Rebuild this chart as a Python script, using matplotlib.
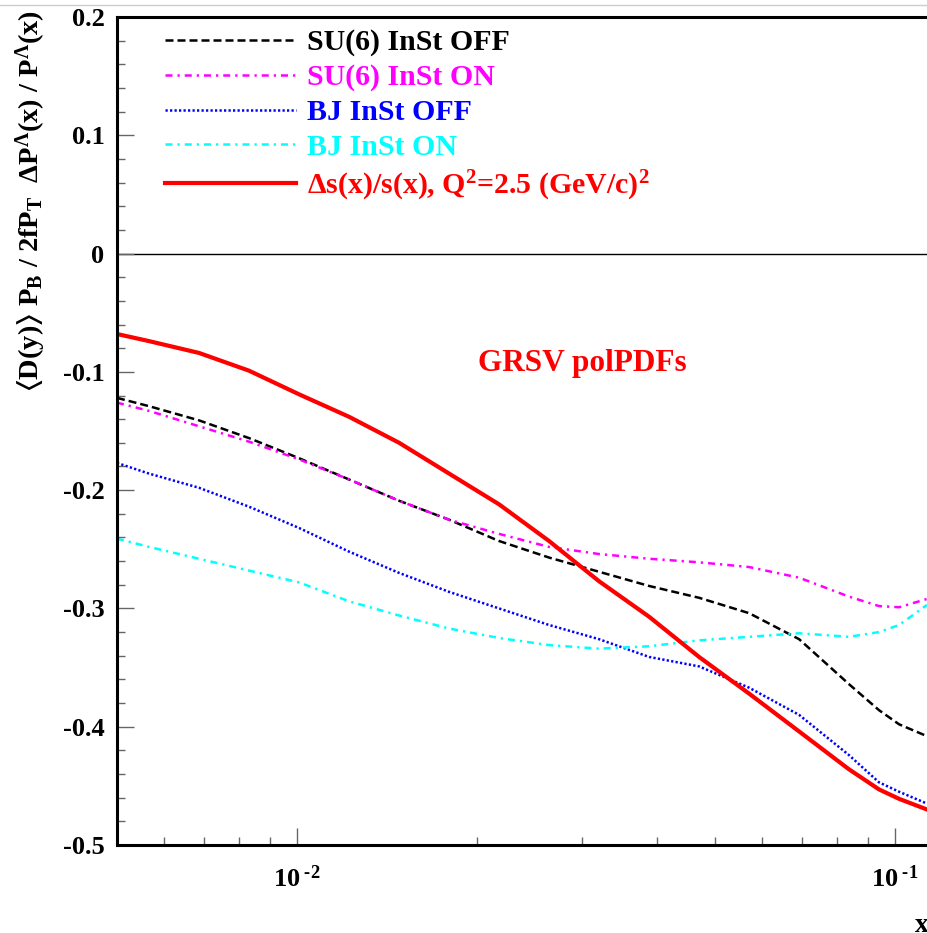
import matplotlib
matplotlib.use("Agg")
import matplotlib.pyplot as plt
import matplotlib.ticker as ticker
from matplotlib.lines import Line2D

plt.rcParams['font.family'] = ['Liberation Serif', 'DejaVu Serif']
plt.rcParams['font.weight'] = 'bold'
plt.rcParams['mathtext.fontset'] = 'custom'
plt.rcParams['mathtext.rm'] = 'Liberation Serif:bold'
plt.rcParams['mathtext.it'] = 'Liberation Serif:bold'
plt.rcParams['mathtext.bf'] = 'Liberation Serif:bold'
plt.rcParams['mathtext.default'] = 'regular'

# valores
x = [0.005, 0.005655, 0.006856, 0.008312, 0.01008, 0.01222, 0.01482, 0.01796, 0.02177,
     0.02639, 0.03199, 0.03879, 0.04702, 0.05701, 0.06912, 0.08375, 0.09401, 0.1016, 0.1131]

su6_off = [-0.122, -0.129, -0.141, -0.156, -0.173, -0.191, -0.209, -0.225, -0.243, -0.257,
           -0.269, -0.281, -0.291, -0.304, -0.326, -0.364, -0.386, -0.398, -0.408]
su6_on = [-0.126, -0.133, -0.146, -0.159, -0.174, -0.191, -0.209, -0.225, -0.237, -0.248,
          -0.254, -0.258, -0.261, -0.265, -0.274, -0.290, -0.298, -0.299, -0.292]
bj_off = [-0.177, -0.186, -0.198, -0.214, -0.232, -0.252, -0.270, -0.286, -0.300, -0.314,
          -0.326, -0.341, -0.349, -0.367, -0.390, -0.424, -0.447, -0.455, -0.465]
bj_on = [-0.241, -0.248, -0.258, -0.268, -0.278, -0.294, -0.306, -0.317, -0.325, -0.331,
         -0.334, -0.332, -0.327, -0.324, -0.321, -0.324, -0.320, -0.314, -0.297]
ds_s = [-0.068, -0.074, -0.084, -0.099, -0.119, -0.138, -0.160, -0.186, -0.212, -0.243,
        -0.277, -0.307, -0.341, -0.372, -0.404, -0.436, -0.453, -0.461, -0.470]

labels = ['SU(6) InSt OFF', 'SU(6) InSt ON', 'BJ InSt OFF', 'BJ InSt ON',
          r'$\Delta$s(x)/s(x), Q$^{2}$=2.5 (GeV/c)$^{2}$']
yticks = [-0.5, -0.4, -0.3, -0.2, -0.1, 0.0, 0.1, 0.2]
ytick_labels = ['-0.5', '-0.4', '-0.3', '-0.2', '-0.1', '0', '0.1', '0.2']
xticks = [0.01, 0.1]
xtick_labels = ['10$^{\\;\u20102}$', '10$^{\\;\u20101}$']

W, H = 927, 933
fig = plt.figure(figsize=(W / 100, H / 100), dpi=100)
ax = fig.add_axes([117 / W, (H - 845) / H, 1 - 117 / W, (845 - 17) / H])

ax.axhline(0, color='black', lw=1.0, zorder=1)

ax.plot(x, su6_off, color='black', lw=1.8, ls=(0, (3.2, 1.6)), label=labels[0])
ax.plot(x, su6_on, color='#ff00ff', lw=1.8, ls=(0, (2.8, 2.0, 0.9, 2.0)), label=labels[1])
ax.plot(x, bj_off, color='#0000ff', lw=1.8, ls=(0, (0.9, 0.9)), label=labels[2])
ax.plot(x, bj_on, color='#00ffff', lw=1.8, ls=(0, (2.8, 2.0, 0.9, 2.0)), label=labels[3])
ax.plot(x, ds_s, color='#ff0000', lw=3.0, label=labels[4])

ax.set_xscale('log')
ax.set_xlim(0.005, 0.1131)
ax.set_ylim(-0.5, 0.2)

ax.set_xticks(xticks)
ax.set_xticklabels(xtick_labels)
ax.xaxis.set_minor_locator(ticker.LogLocator(base=10, subs=range(2, 10), numticks=20))
ax.xaxis.set_minor_formatter(ticker.NullFormatter())
ax.set_yticks(yticks)
ax.set_yticklabels(ytick_labels)
ax.yaxis.set_minor_locator(ticker.MultipleLocator(0.02))

ax.tick_params(which='both', direction='in', color='#666666', width=1.0,
               top=False, right=False)
ax.tick_params(which='major', length=12, labelsize=19)
ax.tick_params(which='minor', length=6)
ax.tick_params(axis='y', pad=9)
ax.tick_params(axis='x', pad=15)

for s in ['left', 'bottom', 'top']:
    ax.spines[s].set_linewidth(2.2)
ax.spines['right'].set_visible(False)

leg = ax.legend(loc='upper left', bbox_to_anchor=(165 / W, 1 - 29 / H),
                bbox_transform=fig.transFigure, frameon=False, fontsize=21.5,
                handlelength=4.4, handletextpad=0.37, labelspacing=0.26,
                borderpad=0, borderaxespad=0)
for txt, line in zip(leg.get_texts(), leg.get_lines()):
    txt.set_color(line.get_color())

ax.text(0.030, -0.093, 'GRSV polPDFs', color='#ff0000', fontsize=22.5,
        ha='center', va='center')

fig.text(31 / W, 1 - 201 / H,
         r'$\langle$D(y)$\rangle$ P$_{B}$ / 2fP$_{T}$  $\Delta$P$^{\Lambda}$(x) / P$^{\Lambda}$(x)',
         rotation=90, ha='center', va='center', fontsize=20.5)
fig.text(922 / W, 1 - 913 / H, 'x', fontsize=20, ha='center', va='top')

fig.add_artist(Line2D([0, 1], [1 - 5 / H, 1 - 5 / H], transform=fig.transFigure,
                      color='#cccccc', lw=1.0))

fig.savefig('out.png', dpi=100)
